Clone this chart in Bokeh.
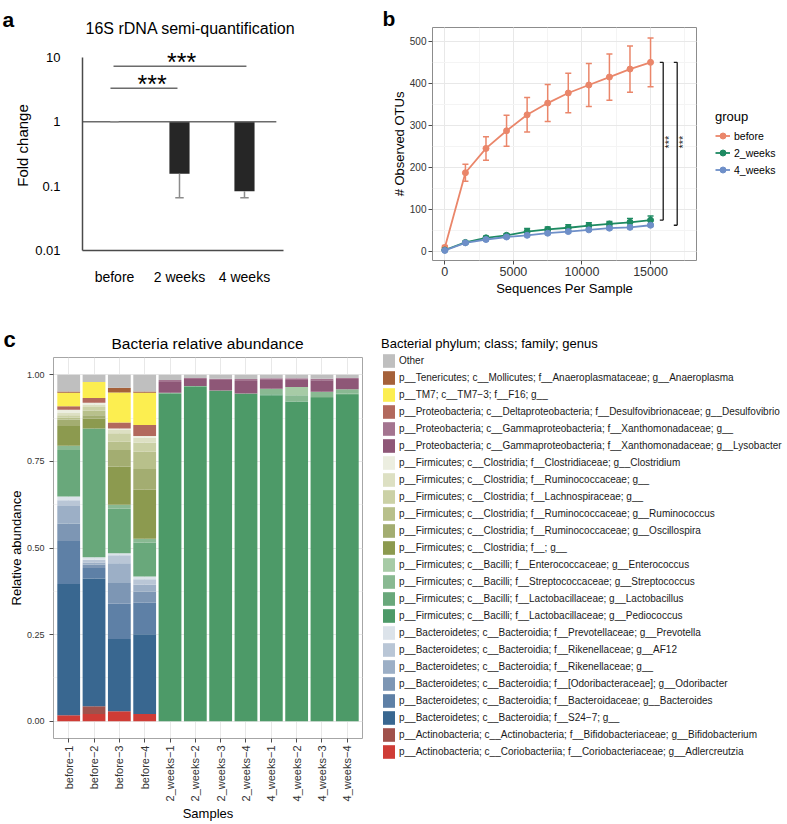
import numpy as np
from bokeh.plotting import figure
from bokeh.models import (Range1d, FixedTicker, Legend, LegendItem,
                          ColumnDataSource, SingleIntervalTicker, NumeralTickFormatter)
from bokeh.core.properties import value
from bokeh.layouts import column, row
from bokeh.embed import file_html
from bokeh.resources import INLINE

FONT = "Liberation Sans"

# ---------------- panel a data ----------------
a_groups = ["before", "2 weeks", "4 weeks"]
a_fold = [1.0, 0.156, 0.083]
a_err_low = [1.0, 0.066, 0.066]
a_sig = ["***", "***"]

# ---------------- panel b data ----------------
b_seq = [0, 1500, 3000, 4500, 6000, 7500, 9000, 10500, 12000, 13500, 15000]
b_before = [9, 187, 245, 287, 325, 353, 377, 396, 415, 434, 450]
b_before_err = [5, 20, 28, 37, 41, 44, 47, 51, 55, 55, 58]
b_w2 = [3, 21, 32, 38, 47, 52, 56, 61, 65, 69, 74]
b_w2_err = [1, 3, 4, 4, 7, 6, 7, 7, 6, 9, 10]
b_w4 = [2, 20, 28, 34, 38, 43, 47, 51, 55, 57, 62]
b_w4_err = [1, 2, 3, 3, 3, 3, 3, 3, 3, 3, 3]
b_groups = ["before", "2_weeks", "4_weeks"]
b_colors = ["#ea866a", "#1e8a62", "#6e8fc8"]

# ---------------- panel c data ----------------
c_samples = ["before\u22121", "before\u22122", "before\u22123", "before\u22124",
             "2_weeks\u22121", "2_weeks\u22122", "2_weeks\u22123", "2_weeks\u22124",
             "4_weeks\u22121", "4_weeks\u22122", "4_weeks\u22123", "4_weeks\u22124"]
c_taxa = [
    "Other",
    "p__Tenericutes; c__Mollicutes; f__Anaeroplasmataceae; g__Anaeroplasma",
    "p__TM7; c__TM7\u22123; f__F16; g__",
    "p__Proteobacteria; c__Deltaproteobacteria; f__Desulfovibrionaceae; g__Desulfovibrio",
    "p__Proteobacteria; c__Gammaproteobacteria; f__Xanthomonadaceae; g__",
    "p__Proteobacteria; c__Gammaproteobacteria; f__Xanthomonadaceae; g__Lysobacter",
    "p__Firmicutes; c__Clostridia; f__Clostridiaceae; g__Clostridium",
    "p__Firmicutes; c__Clostridia; f__Ruminococcaceae; g__",
    "p__Firmicutes; c__Clostridia; f__Lachnospiraceae; g__",
    "p__Firmicutes; c__Clostridia; f__Ruminococcaceae; g__Ruminococcus",
    "p__Firmicutes; c__Clostridia; f__Ruminococcaceae; g__Oscillospira",
    "p__Firmicutes; c__Clostridia; f__; g__",
    "p__Firmicutes; c__Bacilli; f__Enterococcaceae; g__Enterococcus",
    "p__Firmicutes; c__Bacilli; f__Streptococcaceae; g__Streptococcus",
    "p__Firmicutes; c__Bacilli; f__Lactobacillaceae; g__Lactobacillus",
    "p__Firmicutes; c__Bacilli; f__Lactobacillaceae; g__Pediococcus",
    "p__Bacteroidetes; c__Bacteroidia; f__Prevotellaceae; g__Prevotella",
    "p__Bacteroidetes; c__Bacteroidia; f__Rikenellaceae; g__AF12",
    "p__Bacteroidetes; c__Bacteroidia; f__Rikenellaceae; g__",
    "p__Bacteroidetes; c__Bacteroidia; f__[Odoribacteraceae]; g__Odoribacter",
    "p__Bacteroidetes; c__Bacteroidia; f__Bacteroidaceae; g__Bacteroides",
    "p__Bacteroidetes; c__Bacteroidia; f__S24\u22127; g__",
    "p__Actinobacteria; c__Actinobacteria; f__Bifidobacteriaceae; g__Bifidobacterium",
    "p__Actinobacteria; c__Coriobacteriia; f__Coriobacteriaceae; g__Adlercreutzia",
]
c_colors = ["#bfbfbf", "#a5613a", "#fcee50", "#b2695d", "#a47590", "#8e5777",
            "#eceee0", "#dde0c3", "#cbd1a6", "#b8c08b", "#a3ad71", "#8c9a4f",
            "#a7cba6", "#89b992", "#69a87b", "#4d9a68", "#dce3ea", "#b9c6d6",
            "#9cafc6", "#7d96b4", "#5e80a6", "#396790", "#a0514b", "#cf3c36"]

# values per sample, in legend order (Other ... Adlercreutzia)
before_1 = [0.048, 0.004, 0.039, 0.010, 0, 0, 0.009, 0.007, 0.006, 0.006, 0.019, 0.057,
            0, 0.012, 0.134, 0, 0.011, 0.017, 0.050, 0.051, 0.124, 0.379, 0, 0.017]
before_2 = [0.021, 0, 0.046, 0.014, 0, 0, 0.005, 0.007, 0.011, 0.013, 0.009, 0.029,
            0, 0, 0.372, 0, 0.007, 0.008, 0.006, 0.010, 0.031, 0.368, 0.022, 0.021]
before_3 = [0.037, 0.014, 0.087, 0.017, 0, 0, 0.004, 0.010, 0.024, 0.024, 0.048, 0.110,
            0, 0.012, 0.128, 0, 0.006, 0.023, 0.057, 0.060, 0.102, 0.208, 0, 0.029]
before_4 = [0.048, 0.004, 0.093, 0.032, 0, 0, 0.005, 0.014, 0.026, 0.050, 0.060, 0.141,
            0, 0.011, 0.098, 0, 0.008, 0.016, 0.020, 0.032, 0.091, 0.230, 0, 0.021]
weeks2_1 = [0.015, 0, 0, 0, 0.006, 0.031, 0, 0, 0, 0, 0, 0,
            0, 0, 0.002, 0.946, 0, 0, 0, 0, 0, 0, 0, 0]
weeks2_2 = [0.009, 0, 0, 0, 0.003, 0.020, 0, 0, 0, 0, 0, 0,
            0, 0, 0.002, 0.966, 0, 0, 0, 0, 0, 0, 0, 0]
weeks2_3 = [0.011, 0, 0, 0, 0.004, 0.030, 0, 0, 0, 0, 0, 0,
            0, 0, 0.002, 0.953, 0, 0, 0, 0, 0, 0, 0, 0]
weeks2_4 = [0.012, 0, 0, 0, 0.006, 0.036, 0, 0, 0, 0, 0, 0,
            0, 0, 0.001, 0.945, 0, 0, 0, 0, 0, 0, 0, 0]
weeks4_1 = [0.010, 0, 0, 0, 0.005, 0.025, 0, 0, 0, 0, 0, 0,
            0, 0.016, 0.003, 0.941, 0, 0, 0, 0, 0, 0, 0, 0]
weeks4_2 = [0.010, 0, 0, 0, 0.005, 0.020, 0, 0, 0, 0, 0, 0,
            0.024, 0.017, 0.002, 0.922, 0, 0, 0, 0, 0, 0, 0, 0]
weeks4_3 = [0.011, 0, 0, 0, 0.005, 0.033, 0, 0, 0, 0, 0, 0,
            0, 0.015, 0.003, 0.933, 0, 0, 0, 0, 0, 0, 0, 0]
weeks4_4 = [0.009, 0, 0, 0, 0.003, 0.030, 0, 0, 0, 0, 0, 0,
            0, 0.012, 0.004, 0.942, 0, 0, 0, 0, 0, 0, 0, 0]
c_values = [before_1, before_2, before_3, before_4, weeks2_1, weeks2_2, weeks2_3, weeks2_4,
            weeks4_1, weeks4_2, weeks4_3, weeks4_4]

NAN1 = np.array([np.nan])  # legend-key-only renderers: one undrawable point


def style_fig(p):
    p.background_fill_color = "white"
    p.border_fill_color = "white"
    if "frame_align" in p.properties():
        p.frame_align = False


def strip(x0, width, y0, height):
    """A frame-only figure (no axes) whose data coordinates equal page pixels."""
    s = figure(width=width, height=height, x_range=Range1d(x0, x0 + width),
               y_range=Range1d(y0 + height, y0), x_axis_location=None, y_axis_location=None,
               output_backend="svg", toolbar_location=None, min_border=0)
    style_fig(s)
    s.grid.visible = False
    s.outline_line_color = None
    return s


def txt(p, x, y, t, size, align="left", baseline="middle", style="normal"):
    p.text(x=[x], y=[y], text=[t], text_font=value(FONT), text_font_size=size,
           text_align=align, text_baseline=baseline, text_font_style=style, text_color="black")


# ======================= panel a =======================
sa = strip(0, 376, 0, 40)
txt(sa, 2, 19, "a", "21px", baseline="alphabetic", style="bold")
txt(sa, 190, 28, "16S rDNA semi-quantification", "16px", align="center")

pa = figure(width=376, height=260, x_range=Range1d(0.5077, 3.708),
            y_range=Range1d(0.01, 18.17), y_axis_type="log",
            output_backend="svg", toolbar_location=None,
            min_border_left=82, min_border_right=86, min_border_top=0, min_border_bottom=50)
style_fig(pa)
pa.grid.visible = False
pa.outline_line_color = None
xa = [1, 2, 3]
pa.xaxis.ticker = FixedTicker(ticks=xa)
pa.xaxis.major_label_overrides = {i + 1: g for i, g in enumerate(a_groups)}
pa.xaxis.bounds = (0.5077, 3.6)
pa.yaxis.ticker = FixedTicker(ticks=[0.01, 0.1, 1, 10])
pa.yaxis.major_label_overrides = {0.01: "0.01", 0.1: "0.1", 1: "1", 10: "10"}
pa.yaxis.bounds = (0.01, 10)
pa.axis.axis_line_color = "#4a4a4a"
pa.axis.axis_line_width = 1.5
pa.axis.major_tick_line_color = None
pa.axis.minor_tick_line_color = None
pa.axis.major_label_text_font = FONT
pa.axis.major_label_text_color = "black"
pa.xaxis.major_label_text_font_size = "14px"
pa.yaxis.major_label_text_font_size = "13px"
pa.xaxis.major_label_standoff = 12
pa.yaxis.major_label_standoff = 16
pa.yaxis.axis_label = "Fold change"
pa.yaxis.axis_label_text_font = FONT
pa.yaxis.axis_label_text_font_size = "15px"
pa.yaxis.axis_label_text_font_style = "normal"
pa.yaxis.axis_label_text_color = "black"
pa.yaxis.axis_label_standoff = 1

pa.vbar(x=xa, bottom=a_fold, top=[1, 1, 1], width=0.31, fill_color="#262626", line_color=None)
pa.segment(x0=[0.5077], y0=[1], x1=[3.49], y1=[1], line_color="#6b6b6b", line_width=1.5)
pa.segment(x0=xa, y0=a_fold, x1=xa, y1=a_err_low, line_color="#8c8c8c", line_width=1.5)
pa.segment(x0=[x - 0.065 for x in xa], y0=a_err_low, x1=[x + 0.065 for x in xa], y1=a_err_low,
           line_color="#8c8c8c", line_width=1.5)
pa.segment(x0=[0.938, 0.985], y0=[3.31, 7.27], x1=[1.969, 3.03], y1=[3.31, 7.27],
           line_color="#6b6b6b", line_width=1.5)
pa.text(x=[1.58, 2.034], y=[3.85, 8.43], text=a_sig, text_font=value(FONT),
        text_font_size="25px", text_align="center", text_baseline="alphabetic", text_color="black")

# ======================= panel b =======================
sb = strip(376, 324, 0, 27)
txt(sb, 382, 18, "b", "21px", baseline="alphabetic", style="bold")

pb = figure(width=324, height=273, x_range=Range1d(-900, 18350), y_range=Range1d(-22, 533),
            output_backend="svg", toolbar_location=None,
            min_border_left=56, min_border_right=4, min_border_top=0, min_border_bottom=40)
style_fig(pb)
pb.xaxis.ticker = SingleIntervalTicker(interval=5000, num_minor_ticks=2)
pb.yaxis.ticker = SingleIntervalTicker(interval=100, num_minor_ticks=2)
pb.grid.grid_line_color = "#e8e8e8"
pb.grid.minor_grid_line_color = "#f4f4f4"
pb.outline_line_color = "#8c8c8c"
pb.axis.axis_line_color = None
pb.axis.major_tick_line_color = "#4d4d4d"
pb.axis.major_tick_out = 4
pb.axis.major_tick_in = 0
pb.axis.minor_tick_line_color = None
pb.axis.major_label_text_font = FONT
pb.xaxis.major_label_text_font_size = "12.5px"
pb.yaxis.major_label_text_font_size = "10px"
pb.axis.major_label_text_color = "#333333"
pb.axis.major_label_standoff = 2
pb.axis.axis_label_text_font = FONT
pb.axis.axis_label_text_font_size = "13px"
pb.axis.axis_label_text_font_style = "normal"
pb.axis.axis_label_text_color = "black"
pb.axis.axis_label_standoff = 2
pb.yaxis.axis_label_standoff = 0
pb.xaxis.axis_label = "Sequences Per Sample"
pb.yaxis.axis_label = "# Observed OTUs"

for ys, errs, col in zip([b_before, b_w2, b_w4], [b_before_err, b_w2_err, b_w4_err], b_colors):
    lo = [y - e for y, e in zip(ys, errs)]
    hi = [y + e for y, e in zip(ys, errs)]
    pb.segment(x0=b_seq, y0=lo, x1=b_seq, y1=hi, line_color=col, line_width=1.5)
    pb.segment(x0=[x - 220 for x in b_seq], y0=lo, x1=[x + 220 for x in b_seq], y1=lo, line_color=col, line_width=1.5)
    pb.segment(x0=[x - 220 for x in b_seq], y0=hi, x1=[x + 220 for x in b_seq], y1=hi, line_color=col, line_width=1.5)
    pb.line(b_seq, ys, line_color=col, line_width=1.8)
    pb.scatter(b_seq, ys, size=6, fill_color=col, line_color=col)

br_x = [15923, 16943]
br_tick = [15675, 16695]
br_top = [b_before[-1], b_before[-1]]
br_bot = [b_w2[-1], b_w4[-1]]
pb.segment(x0=br_x, y0=br_top, x1=br_x, y1=br_bot, line_color="#1a1a1a", line_width=1.3)
pb.segment(x0=br_tick, y0=br_top, x1=br_x, y1=br_top, line_color="#1a1a1a", line_width=1.3)
pb.segment(x0=br_tick, y0=br_bot, x1=br_x, y1=br_bot, line_color="#1a1a1a", line_width=1.3)
pb.text(x=[16331, 17352], y=[260, 260], text=["***", "***"], angle=np.pi / 2,
        text_font=value(FONT), text_font_size="11px", text_align="center",
        text_baseline="alphabetic", text_color="#1a1a1a")

# legend of panel b, in its own frame to the right
pbl = strip(700, 87, 0, 300)
items_b = []
for name, col in zip(b_groups, b_colors):
    lr = pbl.line(x=NAN1, y=NAN1, line_color=col, line_width=1.8)
    cr = pbl.scatter(x=NAN1, y=NAN1, size=6, fill_color=col, line_color=col)
    items_b.append(LegendItem(label=name, renderers=[lr, cr]))
leg_b = Legend(items=items_b, location=(15, 122), title="group",
               title_text_font=FONT, title_text_font_size="13px", title_text_font_style="normal",
               title_text_color="black", title_standoff=3,
               label_text_font=FONT, label_text_font_size="10.5px", label_text_color="black",
               glyph_width=15, glyph_height=17, label_height=12, spacing=0, padding=0,
               margin=0, label_standoff=4, border_line_color=None, background_fill_alpha=0)
pbl.add_layout(leg_b)

# ======================= panel c =======================
sc = strip(0, 370, 300, 55)
txt(sc, 3, 339, "c", "22px", baseline="alphabetic", style="bold")
txt(sc, 207, 343, "Bacteria relative abundance", "15.5px", align="center")

pc = figure(width=370, height=469, x_range=Range1d(0.4, 12.6), y_range=Range1d(-0.05, 1.05),
            output_backend="svg", toolbar_location=None,
            min_border_left=53, min_border_right=8, min_border_top=2, min_border_bottom=84)
style_fig(pc)
xc = list(range(1, len(c_samples) + 1))
src = {"x": xc}
keys = []
for j in range(len(c_taxa)):
    k = "t%02d" % j
    keys.append(k)
    src[k] = [vals[j] for vals in c_values]
source = ColumnDataSource(src)
pc.vbar_stack(keys[::-1], x="x", width=0.9, color=c_colors[::-1], line_color=None, source=source)

pc.xaxis.ticker = FixedTicker(ticks=xc)
pc.xaxis.major_label_overrides = {i: s for i, s in zip(xc, c_samples)}
pc.xaxis.major_label_orientation = np.pi / 2
pc.yaxis.ticker = FixedTicker(ticks=[0, 0.25, 0.5, 0.75, 1.0], minor_ticks=[0.125, 0.375, 0.625, 0.875])
pc.yaxis.formatter = NumeralTickFormatter(format="0.00")
pc.grid.grid_line_color = "#e8e8e8"
pc.ygrid.minor_grid_line_color = "#f4f4f4"
pc.outline_line_color = "#a6a6a6"
pc.axis.axis_line_color = None
pc.axis.major_tick_line_color = "#4d4d4d"
pc.axis.major_tick_out = 4
pc.axis.major_tick_in = 0
pc.axis.minor_tick_line_color = None
pc.axis.major_label_text_font = FONT
pc.axis.major_label_text_color = "#333333"
pc.xaxis.major_label_text_font_size = "11px"
pc.yaxis.major_label_text_font_size = "9px"
pc.xaxis.major_label_standoff = 3
pc.yaxis.major_label_standoff = 5
pc.axis.axis_label_text_font = FONT
pc.axis.axis_label_text_font_size = "13px"
pc.axis.axis_label_text_font_style = "normal"
pc.axis.axis_label_text_color = "black"
pc.yaxis.axis_label = "Relative abundance"
pc.yaxis.axis_label_standoff = 0
pc.xaxis.axis_label = "Samples"
pc.xaxis.axis_label_standoff = 2

# legend of panel c, in its own frame to the right
pcl = strip(370, 417, 300, 524)
items_c = []
for name, col in zip(c_taxa, c_colors):
    r = pcl.vbar(x=NAN1, top=NAN1, width=0.9, fill_color=col, line_color=None)
    items_c.append(LegendItem(label=name, renderers=[r]))
leg_c = Legend(items=items_c, location=(11, 64), title="Bacterial phylum; class; family; genus",
               title_text_font=FONT, title_text_font_size="13px", title_text_font_style="normal",
               title_text_color="black", title_standoff=1,
               label_text_font=FONT, label_text_font_size="10px", label_text_color="#1a1a1a",
               glyph_width=15, glyph_height=17, label_height=12, spacing=0, padding=0,
               margin=0, label_standoff=3, border_line_color=None, background_fill_alpha=0)
pcl.add_layout(leg_c)

layout = column(row(column(sa, pa), column(sb, pb), pbl),
                row(column(sc, pc), pcl))
open("out.html", "w").write(file_html(layout, INLINE))
